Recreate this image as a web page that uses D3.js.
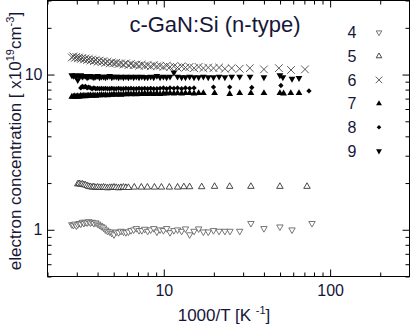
<!DOCTYPE html>
<html>
<head>
<meta charset="utf-8">
<script src="https://cdn.jsdelivr.net/npm/d3@7"></script>
<style>
  body { margin: 0; background: #fff; }
  text { font-family: "Liberation Sans", Arial, sans-serif; fill: #16163a; }
</style>
</head>
<body>
<svg id="chart" width="410" height="325"></svg>
<script>
// 1000/T values of the dense temperature sweep (shared by all samples)
const sweepX = [2.80, 2.86, 2.92, 2.98, 3.04, 3.10, 3.17, 3.24, 3.31, 3.38,
  3.46, 3.54, 3.62, 3.71, 3.80, 3.90, 4.00, 4.11, 4.22, 4.34,
  4.46, 4.59, 4.73, 4.87, 5.02, 5.18, 5.35, 5.53, 5.72, 5.92,
  6.13, 6.35, 6.59, 6.84, 7.10, 7.38, 7.68, 8.00, 8.34, 8.70,
  9.09, 9.50, 9.95, 10.4, 10.9, 11.5, 12.1, 12.8, 13.5, 14.3,
  15.2, 16.2, 17.3, 18.5, 19.9, 21.5, 23.3];

// electron concentration (x1e19 cm^-3) on the sweep, null = not measured
const s4y = [1.08, 1.07, 1.09, 1.06, 1.08, 1.10, 1.09, 1.12, 1.10, 1.12,
  1.11, 1.13, 1.11, 1.12, 1.10, 1.11, 1.09, 1.07, 1.05, 1.03,
  1.00, 0.98, 0.97, 0.95, 0.93, 0.97, 0.96, 0.98, 0.97, 0.96,
  0.97, 0.99, 1.00, 1.02, 0.99, 0.99, 1.01, 0.98, 1.00, 1.02,
  0.97, 1.00, 0.99, 1.02, 0.96, 0.99, 1.00, 0.98, 1.015, 0.93,
  0.98, 1.015, 0.97, 0.97, 0.99, 0.98, 0.98];
const s5y = [null, null, null, null, 1.97, 1.98, 1.96, 1.97, 1.95, 1.94,
  1.92, 1.90, 1.89, 1.88, 1.89, 1.87, 1.88, 1.87, 1.87, 1.88,
  1.87, 1.86, 1.87, 1.87, 1.88, 1.87, 1.86, 1.87, 1.88, 1.87,
  1.87, null, null, null, null, null, null, null, null, null,
  null, null, null, null, null, null, null, null, null, null,
  null, null, null, null, null, null, null];
const s6y = [12.9, 13.1, 12.8, 13.0, 12.7, 12.9, 12.6, 12.8, 12.5, 12.7,
  12.4, 12.6, 12.3, 12.5, 12.2, 12.4, 12.1, 12.3, 12.0, 12.2,
  11.9, 12.1, 11.8, 12.0, 11.8, 11.9, 11.7, 11.8, 11.6, 11.8,
  11.5, 11.7, 11.5, 11.6, 11.4, 11.6, 11.4, 11.5, 11.3, 11.5,
  11.3, 11.4, 11.2, 11.4, 11.2, 11.3, 11.1, 11.3, 11.1, 11.2,
  11.0, 11.2, 11.0, 11.1, 11.0, 11.1, 10.9];
const s7y = [7.20, 7.20, 7.25, 7.20, 7.25, 7.20, 7.30, 7.25, 7.30, 7.25,
  7.30, 7.30, 7.35, 7.30, 7.35, 7.30, 7.35, 7.35, 7.40, 7.35,
  7.40, 7.35, 7.40, 7.40, 7.45, 7.40, 7.45, 7.40, 7.45, 7.45,
  7.50, 7.45, 7.50, 7.45, 7.50, 7.50, 7.55, 7.50, 7.55, 7.50,
  7.55, 7.50, 7.55, 7.55, 7.60, 7.55, 7.60, 7.55, 7.60, 7.60,
  7.55, 7.60, 7.60, null, null, null, null];
const s8y = [null, null, null, null, null, null, 8.20, 8.40, 8.30, 8.40,
  8.20, 8.30, 8.20, 8.10, 8.20, 8.10, 8.15, 8.10, 8.15, 8.10,
  8.15, 8.10, 8.10, 8.15, 8.10, 8.10, 8.15, 8.10, 8.10, 8.15,
  8.10, 8.15, 8.10, 8.10, 8.15, 8.10, 8.15, 8.10, 8.15, 8.10,
  8.10, 8.15, 8.20, 8.10, 8.20, 8.15, 8.20, 8.10, 8.20, 8.15,
  8.20, null, null, null, null, null, null];
const s9y = [9.9, 9.8, 9.9, 9.7, 9.2, 9.8, 9.9, 9.7, 9.8, 9.8,
  9.6, 9.7, 9.8, 9.7, 9.6, 9.7, 9.8, 9.6, 9.7, 9.7,
  9.6, 9.7, 9.8, 9.6, 9.7, 9.7, 9.6, 9.7, 9.6, 9.7,
  9.6, 9.7, 9.6, 9.7, 9.6, 9.7, 9.6, 9.6, 9.7, 9.6,
  9.8, 9.6, 9.7, 9.6, 9.7, 10.3, 9.7, 9.6, 9.6, 9.7,
  9.6, 9.6, 9.7, 9.6, 9.6, 9.7, 9.6];

// sparse low-temperature points [1000/T, n]
const s4tail = [[25, 0.98], [28.6, 0.98], [33.4, 1.10], [40, 1.02], [49.9, 1.045], [59, 1.0], [77.8, 1.10]];
const s5tail = [[6.65, 1.88], [7.33, 1.88], [7.97, 1.88], [8.79, 1.88], [9.68, 1.88], [10.8, 1.88],
  [12.1, 1.88], [13.2, 1.89], [14.3, 1.89], [16.9, 1.89], [20.2, 1.90], [24.9, 1.90],
  [33.4, 1.90], [49.9, 1.90], [72.6, 1.90]];
const s6tail = [[25.6, 11.0], [28.6, 10.9], [32.9, 11.0], [40, 10.8], [49.2, 11.0], [58.2, 10.7], [70.6, 10.8]];
const s7tail = [[20.2, 7.6], [24.9, 7.5], [28.6, 7.6], [33.4, 7.6], [40, 7.6], [49.9, 7.6], [52.5, 7.55], [58, 7.6], [65, 7.6]];
const s8tail = [[19.9, 8.3], [24.9, 8.3], [33.8, 8.25], [50.6, 8.5], [74.6, 7.85]];
const s9tail = [[25.6, 9.7], [28.6, 9.7], [33, 9.7], [40, 9.6], [49.9, 9.9], [52, 9.6], [59, 9.4], [65, 9.5]];

const sampleNames = ["4", "5", "6", "7", "8", "9"];

const xMajor = [10, 100];
const xMinor = [2, 3, 4, 5, 6, 7, 8, 9, 20, 30, 40, 50, 60, 70, 80, 90, 200, 300];
const yMajor = [1, 10];
const yMinor = [0.5, 0.6, 0.7, 0.8, 0.9, 2, 3, 4, 5, 6, 7, 8, 9, 20, 30];

const box = { left: 47.5, right: 409.5, top: 0.5, bottom: 276.5 };

function points(ys, tail) {
  return sweepX.map((x, i) => [x, ys[i]]).filter(d => d[1] != null).concat(tail);
}

let series = [
  { name: "6", data: points(s6y, s6tail), type: d3.symbolTimes, size: 40, rot: 0, fill: "none", stroke: "#4a4a4a" },
  { name: "9", data: points(s9y, s9tail), type: d3.symbolTriangle, size: 20, rot: 180, fill: "#000", stroke: "none" },
  { name: "7", data: points(s7y, s7tail), type: d3.symbolTriangle, size: 20, rot: 0, fill: "#000", stroke: "none" },
  { name: "8", data: points(s8y, s8tail), type: d3.symbolDiamond2, size: 18, rot: 0, fill: "#000", stroke: "none" },
  { name: "5", data: points(s5y, s5tail), type: d3.symbolTriangle, size: 18, rot: 0, fill: "#fff", stroke: "#333" },
  { name: "4", data: points(s4y, s4tail), type: d3.symbolTriangle, size: 18, rot: 180, fill: "#fff", stroke: "#666" }
];

let svg = d3.select("#chart");

let x = d3.scaleLog().domain([2, 300]).range([box.left, box.right]);
let y = d3.scaleLog().domain([0.5, 30]).range([box.bottom, box.top]);

function styleAxis(g) {
  g.select(".domain").remove();
  g.attr("font-family", null).attr("font-size", 16);
  g.selectAll("line").attr("stroke", "#000");
}

// major ticks (with labels) and minor ticks, all pointing inward
svg.append("g")
  .attr("transform", `translate(0,${box.bottom})`)
  .call(d3.axisBottom(x).tickValues(xMajor).tickSize(-7).tickPadding(8.5).tickFormat(d3.format("d")))
  .call(styleAxis);
svg.append("g")
  .attr("transform", `translate(0,${box.bottom})`)
  .call(d3.axisBottom(x).tickValues(xMinor).tickSize(-4).tickFormat(""))
  .call(styleAxis);
svg.append("g")
  .attr("transform", `translate(0,${box.top})`)
  .call(d3.axisTop(x).tickValues(xMajor).tickSize(-7).tickFormat(""))
  .call(styleAxis);
svg.append("g")
  .attr("transform", `translate(0,${box.top})`)
  .call(d3.axisTop(x).tickValues(xMinor).tickSize(-4).tickFormat(""))
  .call(styleAxis);
svg.append("g")
  .attr("transform", `translate(${box.left},0)`)
  .call(d3.axisLeft(y).tickValues(yMajor).tickSize(-7).tickPadding(5).tickFormat(d3.format("d")))
  .call(styleAxis);
svg.append("g")
  .attr("transform", `translate(${box.left},0)`)
  .call(d3.axisLeft(y).tickValues(yMinor).tickSize(-4).tickFormat(""))
  .call(styleAxis);
svg.append("g")
  .attr("transform", `translate(${box.right},0)`)
  .call(d3.axisRight(y).tickValues(yMajor).tickSize(-7).tickFormat(""))
  .call(styleAxis);
svg.append("g")
  .attr("transform", `translate(${box.right},0)`)
  .call(d3.axisRight(y).tickValues(yMinor).tickSize(-4).tickFormat(""))
  .call(styleAxis);

svg.append("rect")
  .attr("x", box.left)
  .attr("y", box.top)
  .attr("width", box.right - box.left)
  .attr("height", box.bottom - box.top)
  .attr("fill", "none")
  .attr("stroke", "#000");

// data markers
series.forEach(s => {
  let sym = d3.symbol().type(s.type).size(s.size);
  svg.append("g")
    .selectAll("path")
    .data(s.data)
    .enter()
    .append("path")
    .attr("d", sym)
    .attr("transform", d => `translate(${x(d[0])},${y(d[1])}) rotate(${s.rot})`)
    .attr("fill", s.fill)
    .attr("stroke", s.stroke)
    .attr("stroke-width", 0.9);
});

// legend
let legend = svg.append("g");
sampleNames.forEach((name, i) => {
  let s = series.find(d => d.name === name);
  let cy = 32.5 + i * 23.7;
  legend.append("text")
    .attr("x", 352)
    .attr("y", cy + 5.8)
    .attr("font-size", 16)
    .style("text-anchor", "middle")
    .text(name);
  legend.append("path")
    .attr("d", d3.symbol().type(s.type).size(s.size * 0.75)())
    .attr("transform", `translate(379,${cy}) rotate(${s.rot})`)
    .attr("fill", s.fill)
    .attr("stroke", s.stroke)
    .attr("stroke-width", 0.9);
});

// titles
svg.append("text")
  .attr("x", 215)
  .attr("y", 31.5)
  .attr("font-size", 22)
  .style("text-anchor", "middle")
  .text("c-GaN:Si (n-type)");

let xt = svg.append("text")
  .attr("x", 224)
  .attr("y", 321)
  .attr("font-size", 17)
  .style("text-anchor", "middle");
xt.append("tspan").text("1000/T [K ");
xt.append("tspan").attr("font-size", 11).attr("dy", -7).text("-1");
xt.append("tspan").attr("dy", 7).text("]");

let yt = svg.append("text")
  .attr("transform", "translate(21,141) rotate(-90)")
  .attr("font-size", 17)
  .style("text-anchor", "middle");
yt.append("tspan").text("electron concentration [ x10");
yt.append("tspan").attr("font-size", 11).attr("dy", -7).text("19");
yt.append("tspan").attr("dy", 7).text("cm");
yt.append("tspan").attr("font-size", 11).attr("dy", -7).text("-3");
yt.append("tspan").attr("dy", 7).text("]");
</script>
</body>
</html>
